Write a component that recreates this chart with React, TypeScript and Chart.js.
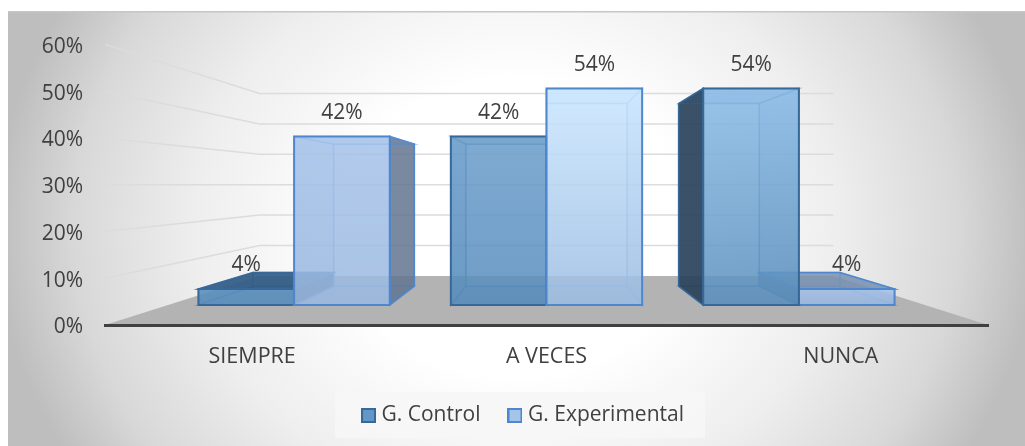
import React, { useEffect, useRef } from "react";
import { Chart, registerables, BarController, BarElement } from "chart.js";

const categories = ["SIEMPRE", "A VECES", "NUNCA"];
const controlValues = [4, 42, 54];
const experimentalValues = [42, 54, 4];
const controlName = "G. Control";
const experimentalName = "G. Experimental";

const FONT = "'Open Sans', sans-serif";
const TEXT = "#404040";
const FRONT_DEPTH = 0.8575;
const BACK_DEPTH = 0.723;
const WALL_DEPTH = 0.65;
const LEGEND_SHIFT = 31;
const controlTop = ["#5a90c0", "#6a9dca", "#8abce8"];
const controlBottom = ["#568dbd", "#568cbc", "#5a8fbc"];
const experimentalTop = ["#a6c3ea", "#c9e6ff", "#a6c3ea"];
const experimentalBottom = ["#9bb9e0", "#9dbde2", "#98b7de"];

Chart.register(...registerables);

let queue: any[] = [];

class Bar3D extends BarElement {
  static id = "bar3d";
  draw() {
    queue.push(this);
  }
}
class Bar3DController extends BarController {
  static id = "bar3d";
  static defaults = { dataElementType: "bar3d" };
}
Chart.register(Bar3D, Bar3DController);

function vanishing(chart: any) {
  const a = chart.chartArea;
  return { vx: (a.left + a.right) / 2, vy: (a.top + a.bottom) / 2 };
}

function poly(ctx: any, pts: number[][], fill: any, stroke?: string, lw = 1.5) {
  ctx.beginPath();
  pts.forEach((p, i) => (i ? ctx.lineTo(p[0], p[1]) : ctx.moveTo(p[0], p[1])));
  ctx.closePath();
  if (fill) {
    ctx.fillStyle = fill;
    ctx.fill();
  }
  if (stroke) {
    ctx.strokeStyle = stroke;
    ctx.lineWidth = lw;
    ctx.stroke();
  }
}

function paintBar(ctx: any, chart: any, el: any) {
  const { vx, vy } = vanishing(chart);
  const P = (x: number, y: number, r: number) => [vx + (x - vx) * r, vy + (y - vy) * r];
  const isControl = el.$series === 0;
  const idx = el.$idx;
  const l = el.x - el.width / 2;
  const r = el.x + el.width / 2;
  const t = el.y;
  const b = el.base;
  const fTL = P(l, t, FRONT_DEPTH), fTR = P(r, t, FRONT_DEPTH), fBL = P(l, b, FRONT_DEPTH), fBR = P(r, b, FRONT_DEPTH);
  const bTL = P(l, t, BACK_DEPTH), bTR = P(r, t, BACK_DEPTH), bBL = P(l, b, BACK_DEPTH), bBR = P(r, b, BACK_DEPTH);
  const edge = isControl ? "#36699a" : "#4f87cf";
  const soft = isControl ? "rgba(54,105,154,0.45)" : "rgba(90,145,220,0.45)";
  const darkSide = isControl ? "rgba(42,66,90,0.92)" : "rgba(98,118,144,0.86)";
  const inner = isControl ? "rgba(40,90,140,0.14)" : "rgba(90,140,210,0.10)";

  // hidden faces first, seen through the translucent front
  poly(ctx, [bTL, bTR, bBR, bBL], null, soft, 1.5);
  poly(ctx, [bBL, bBR, fBR, fBL], inner, soft, 1.5);

  const leftOuter = bTL[0] < fTL[0];
  const rightOuter = bTR[0] > fTR[0];
  const topOuter = bTL[1] < fTL[1];

  poly(ctx, [fTL, bTL, bBL, fBL], leftOuter ? darkSide : inner, leftOuter ? edge : soft, 1.5);
  poly(ctx, [fTR, bTR, bBR, fBR], rightOuter ? darkSide : inner, rightOuter ? edge : soft, 1.5);
  poly(
    ctx,
    [fTL, fTR, bTR, bTL],
    topOuter ? (isControl ? "rgba(50,92,135,0.92)" : "rgba(120,145,178,0.85)") : inner,
    topOuter ? edge : soft,
    1.5
  );

  const g = ctx.createLinearGradient(0, fTL[1], 0, fBL[1]);
  const tops = isControl ? controlTop : experimentalTop;
  const bots = isControl ? controlBottom : experimentalBottom;
  g.addColorStop(0, tops[idx]);
  g.addColorStop(1, bots[idx]);
  ctx.save();
  ctx.globalAlpha = 0.86;
  poly(ctx, [fTL, fTR, fBR, fBL], g);
  ctx.restore();
  poly(ctx, [fTL, fTR, fBR, fBL], null, edge, 2);
}

const scenePlugin = {
  id: "scene",
  afterLayout(chart: any) {
    if (chart.legend) {
      chart.legend.left += LEGEND_SHIFT;
      chart.legend.right += LEGEND_SHIFT;
    }
  },
  beforeDraw(chart: any) {
    const { ctx, width, height } = chart;
    const { left, right, bottom } = chart.chartArea;
    const y = chart.scales.y;
    const { vx, vy } = vanishing(chart);
    const P = (px: number, py: number, r: number) => [vx + (px - vx) * r, vy + (py - vy) * r];

    ctx.save();
    ctx.fillStyle = "#ffffff";
    ctx.fillRect(0, 0, width, height);

    ctx.save();
    ctx.beginPath();
    ctx.rect(8, 11, width - 8, height - 11);
    ctx.clip();
    ctx.translate(516, 228);
    ctx.scale(520, 450);
    const rg = ctx.createRadialGradient(0, 0, 0, 0, 0, 1);
    rg.addColorStop(0, "#ffffff");
    rg.addColorStop(0.33, "#ffffff");
    rg.addColorStop(0.62, "#eeeeee");
    rg.addColorStop(0.85, "#d8d8d8");
    rg.addColorStop(1, "#bebebe");
    ctx.fillStyle = rg;
    ctx.fillRect(-2, -2, 4, 4);
    ctx.restore();

    ctx.fillStyle = "#c6c6c6";
    ctx.fillRect(8, 11, width - 8, 1.5);

    ctx.fillStyle = "rgba(246,246,246,0.92)";
    ctx.fillRect(335, 392, 370, 46);

    const backL = P(left, bottom, WALL_DEPTH);
    const backR = P(right, bottom, WALL_DEPTH);
    poly(ctx, [[left, bottom], [right, bottom], backR, backL], "#b3b3b3");

    y.ticks.forEach((tick: any) => {
      if (tick.value === 0) return;
      const py = y.getPixelForValue(tick.value);
      const a = P(left, py, WALL_DEPTH);
      const c = P(right, py, WALL_DEPTH);
      ctx.beginPath();
      ctx.moveTo(left, py);
      ctx.lineTo(a[0], a[1]);
      ctx.lineTo(c[0], c[1]);
      ctx.strokeStyle = "#dcdcdc";
      ctx.lineWidth = 1.5;
      ctx.stroke();
    });
    ctx.restore();
  },
  afterDatasetsDraw(chart: any) {
    const { ctx } = chart;
    const { vx, vy } = vanishing(chart);
    const items = queue;
    queue = [];
    items.sort((a, b) => Math.abs(b.x - vx) - Math.abs(a.x - vx));
    items.forEach((el) => paintBar(ctx, chart, el));
    ctx.save();
    ctx.font = `21px ${FONT}`;
    ctx.fillStyle = TEXT;
    ctx.textAlign = "center";
    ctx.textBaseline = "middle";
    items.forEach((el) => {
      const px = vx + (el.x - vx) * FRONT_DEPTH;
      const py = vy + (el.y - vy) * FRONT_DEPTH;
      const v = chart.data.datasets[el.$series].data[el.$idx];
      ctx.fillText(`${v}%`, px, py - 23.5);
    });
    ctx.restore();
  },
  beforeDatasetsDraw(chart: any) {
    chart.data.datasets.forEach((_: any, s: number) => {
      chart.getDatasetMeta(s).data.forEach((el: any, i: number) => {
        el.$series = s;
        el.$idx = i;
      });
    });
  },
};

function swatch(fill: string, stroke: string) {
  const c = document.createElement("canvas");
  c.width = 15;
  c.height = 15;
  const x = c.getContext("2d")!;
  x.fillStyle = fill;
  x.fillRect(1, 1, 13, 13);
  x.strokeStyle = stroke;
  x.lineWidth = 2;
  x.strokeRect(1, 1, 13, 13);
  return c;
}

export default function App() {
  const ref = useRef<HTMLCanvasElement>(null);
  useEffect(() => {
    const chart = new Chart(ref.current!, {
      type: "bar3d" as any,
      data: {
        labels: categories,
        datasets: [
          { label: controlName, data: controlValues, backgroundColor: "#6398c6", borderColor: "#36699a" },
          { label: experimentalName, data: experimentalValues, backgroundColor: "#a6c3e8", borderColor: "#4f87cf" },
        ],
      },
      plugins: [scenePlugin],
      options: {
        animation: false,
        responsive: false,
        categoryPercentage: 0.758,
        barPercentage: 1,
        layout: { padding: { left: 0, right: 37, top: 44.4, bottom: 10 } },
        scales: {
          x: {
            grid: { display: false },
            border: { display: true, color: "#404040", width: 3 },
            ticks: { color: TEXT, font: { family: FONT, size: 21.5 }, padding: 11, maxRotation: 0 },
            afterFit(s: any) {
              s.height = 48;
            },
          },
          y: {
            min: 0,
            max: 60,
            grid: { display: false, drawTicks: false },
            border: { display: false },
            ticks: {
              stepSize: 10,
              color: TEXT,
              padding: 22,
              labelOffset: 2.5,
              font: { family: FONT, size: 21 },
              callback: (v: any) => `${v}%`,
            },
            afterFit(s: any) {
              s.width = 105;
            },
          },
        },
        plugins: {
          tooltip: { enabled: false },
          legend: {
            position: "bottom",
            labels: {
              color: TEXT,
              font: { family: FONT, size: 21 },
              usePointStyle: true,
              pointStyleWidth: 5,
              boxHeight: 14,
              padding: 32,
              generateLabels: () => [
                { text: controlName, pointStyle: swatch("#6398c6", "#36699a"), datasetIndex: 0, fontColor: TEXT, hidden: false },
                { text: experimentalName, pointStyle: swatch("#a6c3e8", "#4f87cf"), datasetIndex: 1, fontColor: TEXT, hidden: false },
              ] as any,
            },
          },
        },
      } as any,
    });
    return () => chart.destroy();
  }, []);
  return (
    <canvas
      ref={ref}
      width={1025}
      height={446}
      style={{ position: "fixed", left: 0, top: 0, width: 1025, height: 446, display: "block" }}
    />
  );
}
